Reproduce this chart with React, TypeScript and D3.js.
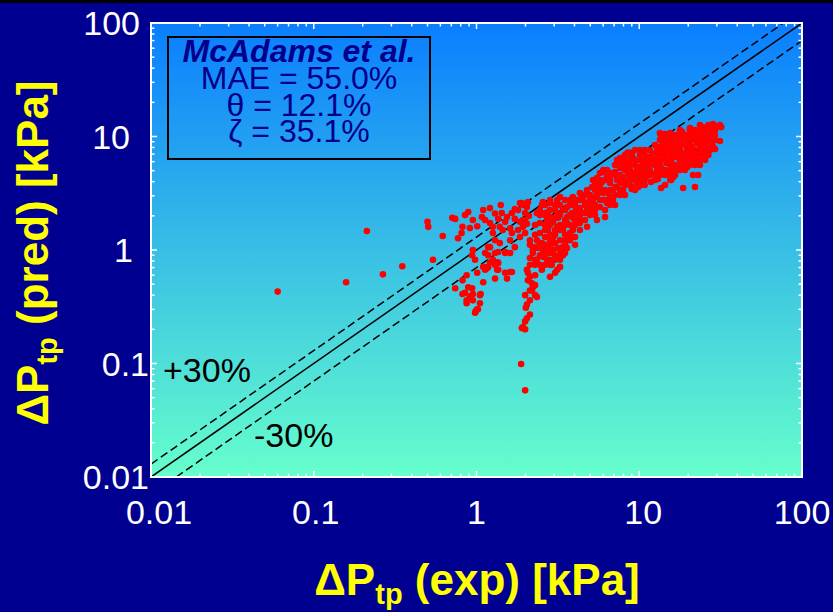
import React from "react";
import * as d3 from "d3";

// ---------- data ----------
const DOMAIN: [number, number] = [0.01, 100];
const MAJOR_TICKS = [0.01, 0.1, 1, 10, 100];
const TICK_LABELS = ["0.01", "0.1", "1", "10", "100"];
const LEGEND_TITLE = "McAdams et al.";
const LEGEND_LINES = ["MAE = 55.0%", "θ = 12.1%", "ζ = 35.1%"];
const BAND_FACTORS = [1.3, 0.7];
const BAND_LABELS = ["+30%", "-30%"];

// [ΔP exp (kPa), ΔP pred (kPa)]
const POINTS: [number, number][] = [
  // isolated low points
  [0.06, 0.43], [0.158, 0.52], [0.212, 1.47], [0.266, 0.61], [0.35, 0.72],
  [0.5, 1.77], [0.505, 1.6], [0.54, 0.82], [0.62, 1.33],
  // left cluster
  [0.71, 1.92], [0.74, 1.88], [0.77, 1.27], [0.81, 1.41], [0.82, 1.6], [0.85, 2.03],
  [0.89, 2.16], [0.91, 1.56], [0.95, 1.84], [1.01, 1.62], [1.08, 1.95], [1.1, 2.25],
  [1.21, 2.34], [1.41, 2.49], [1.21, 1.73], [1.26, 1.6], [1.36, 1.88], [1.43, 2.12],
  [1.54, 1.95], [1.65, 2.12], [1.72, 1.88], [1.85, 1.77], [1.99, 1.84], [2.04, 1.7],
  [1.8, 1.5], [1.93, 1.6], [1.85, 1.3], [1.99, 1.41], [1.39, 1.15], [1.36, 0.96],
  [1.5, 0.96], [1.61, 0.94], [0.95, 1.0], [0.94, 0.9], [0.98, 0.82], [1.18, 0.9],
  [1.21, 0.78], [1.1, 0.71], [1.16, 0.69], [1.26, 0.82], [1.3, 0.74], [1.36, 0.67],
  [1.34, 0.78], [1.5, 0.63], [1.54, 0.56], [1.61, 0.64], [1.65, 0.64], [0.87, 0.6],
  [0.82, 0.54], [0.74, 0.46], [0.89, 0.47], [0.94, 0.46], [0.85, 0.42], [0.91, 0.39],
  [0.95, 0.41], [0.87, 0.34], [0.95, 0.36], [1.05, 0.34], [1.01, 0.3], [0.98, 0.28],
  [1.05, 0.4], [1.1, 0.52], [1.01, 0.63], [1.3, 0.56], [0.82, 0.41], [0.87, 0.36],
  [1.06, 0.41], [0.99, 0.29], [1.02, 0.3], [1.13, 0.67], [1.18, 0.71], [1.34, 0.67],
  [1.36, 0.77], [1.3, 0.94], [1.5, 0.94], [1.39, 1.6], [1.45, 1.5], [1.26, 1.41],
  [1.3, 1.22], [1.21, 1.06], [1.13, 0.94], [1.18, 1.06], [1.61, 1.22], [1.72, 1.06],
  [1.65, 1.41], [1.93, 1.84], [1.99, 2.12], [2.04, 2.39], [1.8, 2.25], [1.9, 2.59],
  [2.07, 2.65], [1.85, 2.59], [1.93, 2.49], [1.5, 1.77], [1.61, 1.55], [1.3, 2.1],
  [1.13, 1.84], [1.72, 2.3], [2.1, 2.0],
  // tail near 2 kPa
  [2.04, 0.67], [2.07, 0.63], [2.13, 0.58], [2.19, 0.51], [2.22, 0.47], [2.19, 0.44],
  [2.29, 0.4], [2.35, 0.385], [1.99, 0.4], [2.04, 0.33], [2.01, 0.31], [2.04, 0.25],
  [1.99, 0.235], [1.93, 0.21], [1.9, 0.205], [1.99, 0.2], [2.13, 0.27], [1.88, 0.099],
  [1.99, 0.058], [2.13, 0.85], [2.22, 0.94], [2.29, 1.06], [2.38, 1.04], [2.35, 0.82],
  [2.45, 0.74], [2.52, 0.67], [2.56, 0.87], [2.71, 0.82], [2.83, 0.94], [2.96, 1.0],
  [2.9, 0.74], [3.04, 0.63], [2.83, 0.58], [3.13, 0.67], [3.26, 0.71], [2.07, 0.54],
  [2.29, 0.49],
  // main band start
  [3.4, 0.9], [3.6, 1.04], [3.5, 1.22], [3.75, 1.41], [3.91, 1.3], [3.4, 1.5],
  [3.13, 1.6], [2.96, 1.77], [3.17, 1.92], [3.6, 1.95], [3.86, 2.12], [4.09, 2.25],
  [4.32, 2.34], [4.78, 2.59], [5.2, 2.76], [5.5, 3.05], [4.5, 3.05], [3.91, 2.93],
  [2.45, 1.41], [2.64, 1.3], [2.35, 1.22], [2.52, 1.15], [2.71, 1.06], [2.56, 1.0],
  [2.75, 1.5], [2.96, 1.3], [3.04, 1.15], [3.26, 1.22], [3.17, 1.04], [2.45, 1.73],
  [2.83, 1.95], [2.64, 2.12], [3.6, 1.73], [3.91, 1.6], [2.35, 2.12], [2.45, 2.25],
  [2.52, 2.49], [2.75, 2.16], [2.83, 2.59], [3.13, 2.76], [3.26, 2.93], [2.56, 2.65],
  [2.71, 1.84], [2.96, 1.92], [3.17, 2.12], [3.4, 2.25], [3.6, 2.39], [3.86, 2.49],
  [4.09, 2.76], [4.41, 2.93], [4.78, 3.38], [5.13, 3.59], [5.5, 3.9], [5.9, 3.98],
  [6.34, 4.39], [6.61, 4.77], [7.1, 4.87], [7.62, 5.27], [7.95, 5.84], [8.41, 6.21],
  [7.62, 6.47], [5.74, 4.77], [6.0, 5.07], [4.78, 2.25], [5.2, 2.12], [5.74, 2.39],
  [6.0, 2.76], [6.43, 3.18], [6.9, 3.38], [6.16, 1.95], [5.5, 1.84], [4.78, 1.6],
  [4.32, 1.73], [3.91, 1.5], [3.6, 1.3], [2.96, 1.15], [2.71, 1.0], [2.22, 1.0],
  [3.4, 1.06], [4.03, 1.3], [3.5, 0.94], [3.91, 1.92], [4.17, 2.03], [4.98, 2.59],
  [5.35, 2.93], [5.58, 3.18], [6.61, 3.9], [7.3, 4.14], [7.95, 4.39], [8.53, 4.77],
  [7.1, 3.59], [7.62, 3.38], [7.84, 3.9],
  [3.5, 2.76], [3.5, 2.25], [3.5, 1.84], [3.5, 1.66], [3.5, 1.36], [3.5, 1.11],
  [4.03, 2.76], [4.03, 2.49], [4.03, 2.03], [4.03, 1.84], [4.03, 1.66], [4.03, 1.11],
  [4.64, 3.05], [4.64, 2.49], [4.64, 1.84], [5.35, 3.74], [5.35, 3.38], [5.35, 2.49],
  [5.35, 2.25], [5.35, 2.03], [3.04, 2.49], [3.04, 2.25], [3.04, 1.5], [3.04, 1.36],
  [3.04, 0.9], [3.04, 0.82], [2.64, 1.66], [2.64, 0.9], [2.64, 0.74], [2.29, 1.66],
  [2.29, 1.36], [2.29, 0.82], [2.29, 0.74], [2.29, 0.6], [2.13, 1.22], [2.13, 1.11],
  [2.13, 0.74], [2.13, 0.44], [2.13, 0.36],
  [2.83, 2.76], [2.83, 2.25], [2.83, 1.66], [2.83, 1.36], [2.83, 1.22], [2.83, 1.11],
  [2.83, 0.82], [2.83, 0.74], [3.26, 2.49], [3.26, 2.03], [3.26, 1.66], [3.26, 1.5],
  [3.26, 1.0], [3.26, 0.9], [3.26, 0.82], [3.75, 2.76], [3.75, 2.49], [3.75, 2.03],
  [3.75, 1.66], [3.75, 1.22], [4.32, 2.76], [4.32, 2.03], [4.32, 1.84], [4.32, 1.5],
  [4.98, 3.05], [4.98, 2.76], [4.98, 2.25], [4.98, 2.03], [2.64, 2.49], [2.64, 2.03],
  [2.64, 1.5], [2.64, 1.11], [2.45, 2.03], [2.45, 1.11], [2.45, 0.9],
  // upper band
  [7.3, 6.21], [7.84, 6.47], [8.41, 7.08], [9.0, 7.23], [9.42, 7.6], [6.0, 4.87],
  [6.34, 5.07], [5.2, 4.14], [5.5, 4.31], [4.32, 3.18], [4.5, 2.76], [4.32, 2.25],
  [4.64, 2.12], [4.98, 2.39], [5.2, 2.59], [5.13, 2.12], [5.74, 2.76], [6.0, 3.18],
  [6.34, 2.59], [6.61, 2.93], [7.3, 3.59], [7.62, 3.9], [6.9, 2.76], [7.95, 3.38],
  [8.41, 4.14], [8.77, 4.39], [9.16, 4.77], [9.69, 5.07], [10.1, 5.39], [10.5, 5.84],
  [11.0, 6.21], [11.6, 6.61], [12.1, 7.08], [12.9, 7.6], [13.4, 8.09], [14.0, 8.76],
  [14.7, 9.31], [15.5, 9.89], [9.0, 3.59], [9.69, 3.9], [10.4, 4.14], [11.0, 4.39],
  [11.8, 4.77], [12.9, 5.07], [13.6, 5.27], [14.7, 5.84], [15.7, 6.21], [16.9, 6.61],
  [18.3, 7.08], [19.7, 7.6], [21.1, 8.09], [22.6, 8.76], [24.3, 9.31], [26.1, 9.89],
  [28.0, 10.7], [30.1, 12.1], [31.3, 12.6], [13.6, 3.52], [14.4, 3.74], [18.6, 3.52],
  [22.0, 3.59], [21.4, 4.58], [23.0, 4.58], [15.5, 4.14], [16.2, 4.39], [17.8, 5.07],
  [19.7, 5.39], [21.4, 5.84], [23.6, 6.21], [26.1, 7.08], [28.4, 8.09], [27.2, 9.31],
  [28.4, 11.4], [26.1, 12.1], [23.6, 11.4], [21.4, 10.7], [19.7, 9.89], [17.8, 9.31],
  [16.2, 8.76], [14.0, 9.89], [15.5, 10.7], [17.8, 11.4], [20.5, 11.9], [23.6, 12.6],
  [28.0, 12.6], [13.4, 10.7], [13.6, 9.7], [24.3, 12.1], [26.6, 12.6], [28.4, 12.9],
  [31.0, 12.4], [31.9, 12.1], [13.6, 10.3], [14.4, 10.5], [16.6, 10.3], [18.3, 11.0],
  [20.5, 11.4], [8.53, 7.23], [9.0, 6.87], [8.17, 6.34], [8.17, 3.74], [9.0, 3.45],
  [9.87, 3.59], [10.8, 3.74], [11.8, 3.98], [13.0, 4.22], [15.0, 4.58], [17.2, 5.07],
  [20.0, 5.61], [23.0, 5.97], [26.6, 6.87], [29.2, 7.75], [31.3, 9.12], [15.7, 4.14],
  [6.16, 4.14], [6.16, 3.38], [6.16, 2.76], [6.16, 2.25], [7.1, 5.61], [7.1, 4.58],
  [7.1, 3.05], [7.1, 2.49], [8.17, 6.87], [8.17, 5.61], [8.17, 5.07], [8.17, 3.05],
  [9.42, 6.21], [9.42, 5.61], [9.42, 4.58], [9.42, 4.14], [9.42, 3.38], [10.8, 7.6],
  [10.8, 6.87], [10.8, 5.61], [10.8, 5.07], [10.8, 4.58], [10.8, 4.14], [12.5, 8.41],
  [12.5, 6.87], [12.5, 6.21], [12.5, 5.61], [12.5, 4.58], [12.5, 4.14], [14.4, 8.41],
  [14.4, 7.6], [14.4, 6.87], [14.4, 6.21], [14.4, 5.07], [14.4, 4.58], [16.6, 9.31],
  [16.6, 8.41], [16.6, 7.6], [16.6, 6.87], [16.6, 5.61], [16.6, 5.07], [16.6, 4.58],
  [19.1, 10.3], [19.1, 9.31], [19.1, 8.41], [19.1, 6.87], [19.1, 6.21], [19.1, 5.61],
  [19.1, 5.07], [22.0, 11.4], [22.0, 10.3], [22.0, 9.31], [22.0, 7.6], [22.0, 6.87],
  [22.0, 6.21], [22.0, 5.61], [25.4, 11.4], [25.4, 10.3], [25.4, 9.31], [25.4, 8.41],
  [25.4, 7.6], [25.4, 6.87], [25.4, 6.21], [29.2, 11.4], [29.2, 10.3], [29.2, 9.31],
  [28.0, 8.4],
  [5.74, 4.14], [5.74, 3.74], [5.74, 3.38], [6.61, 4.58], [6.61, 4.14], [6.61, 3.38],
  [6.61, 2.76], [6.61, 2.49], [7.62, 5.61], [7.62, 4.58], [7.62, 4.14], [7.62, 3.05],
  [8.77, 6.21], [8.77, 5.61], [8.77, 5.07], [8.77, 4.14], [8.77, 3.74], [10.1, 7.6],
  [10.1, 6.87], [10.1, 6.21], [10.1, 5.07], [10.1, 4.58], [10.1, 4.14], [10.1, 3.74],
  [11.6, 7.6], [11.6, 6.21], [11.6, 5.61], [11.6, 5.07], [11.6, 4.58], [13.4, 9.31],
  [13.4, 7.6], [13.4, 6.87], [13.4, 6.21], [13.4, 5.61], [13.4, 5.07], [13.4, 4.58],
  [15.5, 9.31], [15.5, 8.41], [15.5, 7.6], [15.5, 6.87], [15.5, 6.21], [15.5, 5.61],
  [15.5, 5.07], [15.5, 4.58], [17.8, 10.3], [17.8, 8.41], [17.8, 7.6], [17.8, 6.87],
  [17.8, 6.21], [17.8, 5.61], [20.5, 11.4], [20.5, 10.3], [20.5, 9.31], [20.5, 8.41],
  [20.5, 7.6], [20.5, 6.87], [20.5, 6.21], [20.5, 5.61], [23.6, 11.4], [23.6, 10.3],
  [23.6, 9.31], [23.6, 8.41], [23.6, 7.6], [23.6, 6.87], [23.6, 5.61], [27.2, 11.4],
  [27.2, 10.3], [27.2, 8.41], [27.2, 7.6],
];

// ---------- layout ----------
const W = 833;
const H = 612;
const PL = 151, PR = 802, PT = 23, PB = 477;
const FONT = "'Liberation Sans', Arial, Helvetica, sans-serif";
const NAVY = "#000090";
const TXT_NAVY = "#00008b";
// per-label nudges as placed in the original slide
const XLABEL_DX = [8, 2, 0, 4, 0];
const YLABEL_END = [149, 149, 133, 130, 140];

export default function App() {
  const x = d3.scaleLog().domain(DOMAIN).range([PL, PR]);
  const y = d3.scaleLog().domain(DOMAIN).range([PB, PT]);

  const minor: number[] = [];
  MAJOR_TICKS.slice(0, -1).forEach((d) => {
    for (let k = 2; k <= 9; k++) minor.push(d * k);
  });

  const lineGen = d3
    .line<[number, number]>()
    .x((d) => x(d[0]))
    .y((d) => y(d[1]));

  const refLine = (f: number): [number, number][] => {
    const x1 = Math.max(DOMAIN[0], DOMAIN[0] / f);
    const x2 = Math.min(DOMAIN[1], DOMAIN[1] / f);
    return [
      [x1, f * x1],
      [x2, f * x2],
    ];
  };

  const MAJ = 6, MIN = 3.5;

  return (
    <>
      <style>{`body{margin:0;background:${NAVY};} #root{line-height:0}`}</style>
      <svg width={W} height={H} style={{ display: "block" }} fontFamily={FONT}>
        <defs>
          <linearGradient id="bg" x1="0" y1="0" x2="0" y2="1">
            <stop offset="0%" stopColor="#0a7eff" />
            <stop offset="100%" stopColor="#66ffcc" />
          </linearGradient>
          <clipPath id="plotclip">
            <rect x={PL} y={PT} width={PR - PL} height={PB - PT} />
          </clipPath>
        </defs>
        <rect x={0} y={0} width={W} height={H} fill={NAVY} />
        <rect x={0} y={0} width={W} height={3} fill="#000" />
        <rect x={PL} y={PT} width={PR - PL} height={PB - PT} fill="url(#bg)" />

        {/* legend box */}
        <rect x={168} y={37} width={262} height={122} fill="none" stroke="#000" strokeWidth={2} />
        <text x={299} y={62} textAnchor="middle" fontSize={32} fontWeight="bold" fontStyle="italic" fill={TXT_NAVY}>
          {LEGEND_TITLE}
        </text>
        {LEGEND_LINES.map((t, i) => (
          <text key={t} x={299} y={89 + i * 26.5} textAnchor="middle" fontSize={32} fill={TXT_NAVY}>
            {t}
          </text>
        ))}

        {/* reference lines */}
        <g clipPath="url(#plotclip)" fill="none" stroke="#000" strokeWidth={1.5}>
          <path d={lineGen(refLine(1)) || ""} />
          {BAND_FACTORS.map((f) => (
            <path key={f} d={lineGen(refLine(f)) || ""} strokeDasharray="8,4" />
          ))}
        </g>
        <text x={163} y={382} fontSize={34} fill="#000">{BAND_LABELS[0]}</text>
        <text x={254} y={447} fontSize={34} fill="#000">{BAND_LABELS[1]}</text>

        {/* points */}
        <g clipPath="url(#plotclip)">
          {POINTS.map((p, i) => (
            <circle key={i} cx={x(p[0])} cy={y(p[1])} r={3.3} fill="#ff0000" />
          ))}
        </g>

        {/* frame & ticks */}
        <g stroke="#fff" strokeWidth={1.5}>
          {MAJOR_TICKS.map((t) => (
            <g key={"M" + t}>
              <line x1={x(t)} x2={x(t)} y1={PB} y2={PB - MAJ} />
              <line x1={x(t)} x2={x(t)} y1={PT} y2={PT + MAJ} />
              <line y1={y(t)} y2={y(t)} x1={PL} x2={PL + MAJ} />
              <line y1={y(t)} y2={y(t)} x1={PR} x2={PR - MAJ} />
            </g>
          ))}
          {minor.map((t) => (
            <g key={"m" + t}>
              <line x1={x(t)} x2={x(t)} y1={PB} y2={PB - MIN} />
              <line x1={x(t)} x2={x(t)} y1={PT} y2={PT + MIN} />
              <line y1={y(t)} y2={y(t)} x1={PL} x2={PL + MIN} />
              <line y1={y(t)} y2={y(t)} x1={PR} x2={PR - MIN} />
            </g>
          ))}
          <rect x={PL} y={PT} width={PR - PL} height={PB - PT} fill="none" strokeWidth={2} />
        </g>

        {/* tick labels */}
        {MAJOR_TICKS.map((t, i) => (
          <text key={"xl" + t} x={x(t) + XLABEL_DX[i]} y={524} textAnchor="middle" fontSize={34} fill="#fff">
            {TICK_LABELS[i]}
          </text>
        ))}
        {MAJOR_TICKS.map((t, i) => (
          <text key={"yl" + t} x={YLABEL_END[i]} y={y(t) + 12} textAnchor="end" fontSize={34} fill="#fff">
            {TICK_LABELS[i]}
          </text>
        ))}

        {/* axis titles */}
        <text x={477} y={595} textAnchor="middle" fontSize={44} fontWeight="bold" fill="#ffff00">
          ΔP<tspan fontSize={29} dy={9}>tp</tspan>
          <tspan dy={-9}> (exp) [kPa]</tspan>
        </text>
        <text transform="translate(48,253) rotate(-90)" textAnchor="middle" fontSize={44} fontWeight="bold" fill="#ffff00">
          ΔP<tspan fontSize={29} dy={9}>tp</tspan>
          <tspan dy={-9}> (pred) [kPa]</tspan>
        </text>
      </svg>
    </>
  );
}
